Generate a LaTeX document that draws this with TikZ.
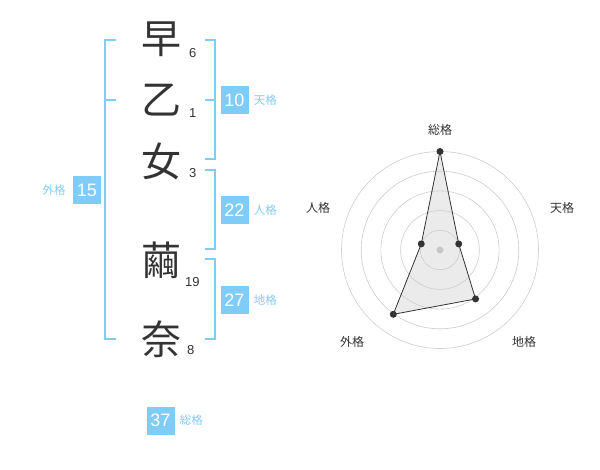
\documentclass[tikz,border=0pt]{standalone}
\usepackage{fontspec}
\setmainfont{Liberation Sans}
\newfontfamily\jp{Noto Sans CJK JP}
\definecolor{seiblue}{RGB}{128,204,248}
\definecolor{ink}{RGB}{51,51,51}

\begin{document}
\begin{tikzpicture}[
    x=1pt,y=-1pt,
    every node/.style={inner sep=0pt, text=ink},
    kanji/.style={font=\jp\fontsize{40}{40}\selectfont},
    strokes/.style={font=\fontsize{13}{13}\selectfont, anchor=base west},
    bracket/.style={draw=seiblue, line width=2pt},
    score/.style={fill=seiblue, minimum width=28pt, minimum height=28pt, text=white, font=\fontsize{18}{18}\selectfont},
    kaku/.style={text=seiblue, font=\jp\fontsize{11.5}{11.5}\selectfont},
    ring/.style={draw=black!20, line width=0.6pt},
    axis/.style={font=\jp\fontsize{12}{12}\selectfont},
    dot/.style={circle, fill=ink, minimum size=7pt}
]
    \useasboundingbox (0,0) rectangle (600,470);

    % name, one character per row
    \node[kanji] (c1) at (161,39) {早};
    \node[kanji] (c2) at (161,100) {乙};
    \node[kanji] (c3) at (161,161) {女};
    \node[kanji] (c4) at (161,260) {繭};
    \node[kanji] (c5) at (161,339) {奈};
    \node[strokes] (n1) at (189,57.5) {6};
    \node[strokes] (n2) at (189,118) {1};
    \node[strokes] (n3) at (189,178) {3};
    \node[strokes] (n4) at (185,287) {19};
    \node[strokes] (n5) at (187,355) {8};

    % brackets
    \draw[bracket] (116,40) -- (105,40) -- (105,339) -- (116,339);
    \draw[bracket] (105,100) -- (116,100);
    \draw[bracket] (205,40) -- (214.5,40) -- (214.5,159) -- (205,159);
    \draw[bracket] (205,100) -- (214.5,100);
    \draw[bracket] (205,170) -- (214.5,170) -- (214.5,249) -- (205,249);
    \draw[bracket] (205,259) -- (214.5,259) -- (214.5,339) -- (205,339);

    % scores
    \node[score] (ten) at (234.5,100) {10};
    \node[kaku, anchor=west] (ten-l) at (ten.east) [xshift=5pt] {天格};
    \node[score] (jin) at (234.5,210.5) {22};
    \node[kaku, anchor=west] (jin-l) at (jin.east) [xshift=5pt] {人格};
    \node[score] (chi) at (234.5,300) {27};
    \node[kaku, anchor=west] (chi-l) at (chi.east) [xshift=5pt] {地格};
    \node[score] (gai) at (87,190.5) {15};
    \node[kaku, anchor=east] (gai-l) at (gai.west) [xshift=-7pt] {外格};
    \node[score] (sou) at (160.5,420.5) {37};
    \node[kaku, anchor=west] (sou-l) at (sou.east) [xshift=5pt] {総格};

    % radar
    \begin{scope}[shift={(440,250)}, yscale=-1]
        \coordinate (r-sou) at (90:98.5);
        \coordinate (r-ten) at (18:19.7);
        \coordinate (r-chi) at (-54:60.5);
        \coordinate (r-gai) at (-126:79.5);
        \coordinate (r-jin) at (162:19.7);
        \fill[black!8] (r-sou) -- (r-ten) -- (r-chi) -- (r-gai) -- (r-jin) -- cycle;
        \foreach \r in {1,...,5}
            \draw[ring] (0,0) circle[radius={\r*19.7pt}];
        \fill[black!22] (0,0) circle[radius=3.5pt];
        \draw[ink, line width=0.8pt] (r-sou) -- (r-ten) -- (r-chi) -- (r-gai) -- (r-jin) -- cycle;
        \foreach \p in {sou,ten,chi,gai,jin}
            \node[dot] (d-\p) at (r-\p) {};
    \end{scope}
    \node[axis] (a-sou) at (440,130) {総格};
    \node[axis] (a-ten) at (562,208) {天格};
    \node[axis] (a-jin) at (318,208) {人格};
    \node[axis] (a-gai) at (352,342) {外格};
    \node[axis] (a-chi) at (524,342) {地格};
\end{tikzpicture}
\end{document}
